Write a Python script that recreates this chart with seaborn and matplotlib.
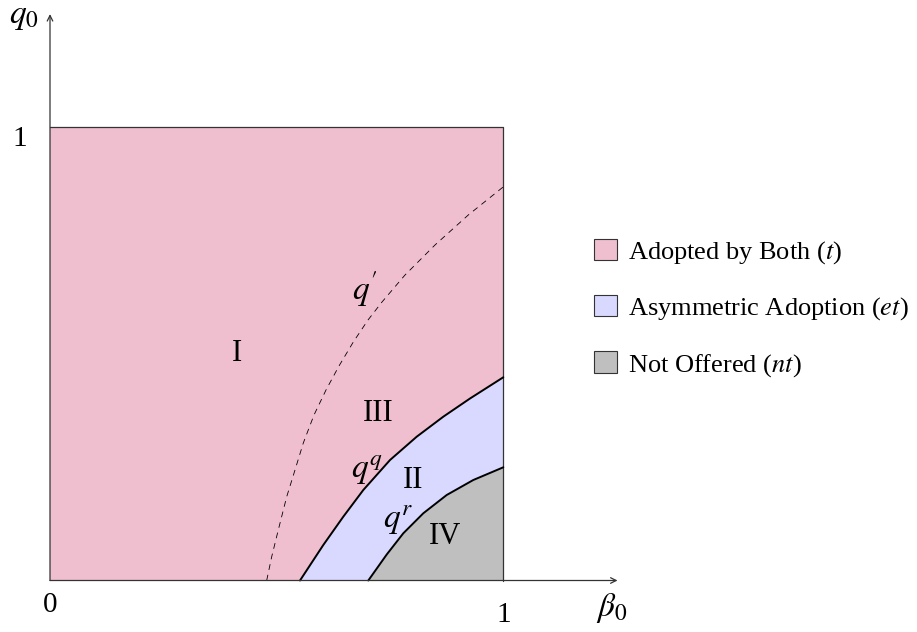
import matplotlib
matplotlib.use("Agg")
import matplotlib.pyplot as plt
import seaborn as sns
import pandas as pd
from matplotlib.patches import Patch

sns.set_style("white")
plt.rcParams['font.family'] = ['Liberation Serif', 'DejaVu Serif']
plt.rcParams['mathtext.fontset'] = 'stix'
plt.rcParams['text.color'] = 'black'

# Boundary curves (beta0, q0)
qprime_x = [0.478, 0.4891, 0.5036, 0.5222, 0.5405, 0.5588, 0.5824, 0.6089, 0.6375, 0.6691,
            0.7015, 0.7324, 0.7832, 0.8493, 0.9228, 1.0]
qprime_y = [0.0, 0.0525, 0.1114, 0.1848, 0.2437, 0.3032, 0.365, 0.4201, 0.473, 0.5259,
            0.5744, 0.6141, 0.6737, 0.7398, 0.806, 0.868]
qq_x = [0.5515, 0.6029, 0.647, 0.6912, 0.7501, 0.809, 0.8676, 0.9265, 1.0]
qq_y = [0.0, 0.0783, 0.1407, 0.1996, 0.2657, 0.3171, 0.3612, 0.4013, 0.4481]
qr_x = [0.7022, 0.7428, 0.7794, 0.8235, 0.8751, 0.9338, 1.0]
qr_y = [0.0, 0.0573, 0.1041, 0.1482, 0.1885, 0.2216, 0.2496]

legend_labels = ["Adopted by Both ($t$)", "Asymmetric Adoption ($et$)", "Not Offered ($nt$)"]
region_labels = ["I", "II", "III", "IV"]
region_pos = [(0.4118, 0.501), (0.80, 0.2216), (0.724, 0.3687), (0.8714, 0.0966)]
curve_labels = [r"$q^{\prime}$", r"$q^{q}$", r"$q^{r}$"]
curve_label_pos = [(0.695, 0.643), (0.700, 0.2437), (0.7677, 0.1334)]

pink = (0.9375, 0.75, 0.8125)
blue = (0.85, 0.85, 1.0)
gray = (0.75, 0.75, 0.75)

fig = plt.figure(figsize=(9.17, 6.32), dpi=100)
ax = fig.add_axes([0, 0, 1, 1])

# Regions
ax.fill_between([0, 1], 0, 1, color=pink, lw=0, zorder=1)
ax.fill_between(qq_x, qq_y, 0, color=blue, lw=0, zorder=2)
ax.fill_between(qr_x, qr_y, 0, color=gray, lw=0, zorder=3)

# Square border (top and right)
ax.plot([0, 1, 1], [1, 1, 0], color="#333333", lw=0.9, zorder=5)

# Curves via seaborn
df_qq = pd.DataFrame({"x": qq_x, "y": qq_y})
df_qr = pd.DataFrame({"x": qr_x, "y": qr_y})
df_qp = pd.DataFrame({"x": qprime_x, "y": qprime_y})
sns.lineplot(data=df_qq, x="x", y="y", color="black", lw=1.4, sort=False, ax=ax, zorder=6)
sns.lineplot(data=df_qr, x="x", y="y", color="black", lw=1.4, sort=False, ax=ax, zorder=6)
sns.lineplot(data=df_qp, x="x", y="y", color="black", lw=0.6, sort=False, ax=ax, zorder=6,
             linestyle=(0, (7, 6)))
ax.set_xlim(-50 / 453.3, (917 - 50) / 453.3)
ax.set_ylim((580.5 - 632) / 453.5, 580.5 / 453.5)
ax.axis("off")

# Axes with arrows
ax.annotate("", xy=(1.252, 0), xytext=(0, 0),
            arrowprops=dict(arrowstyle="->", lw=0.9, color="#333333", shrinkA=0, shrinkB=0), zorder=7)
ax.annotate("", xy=(0, 1.249), xytext=(0, 0),
            arrowprops=dict(arrowstyle="->", lw=0.9, color="#333333", shrinkA=0, shrinkB=0), zorder=7)

fs = 21
ax.text(0.0, -0.054, "0", fontsize=fs, ha="center", va="center")
ax.text(1.0, -0.076, "1", fontsize=fs, ha="center", va="center")
ax.text(-0.066, 0.973, "1", fontsize=fs, ha="center", va="center")
ax.text(1.240, -0.060, r"$\beta_0$", fontsize=fs + 3, ha="center", va="center")
ax.text(-0.057, 1.243, r"$q_0$", fontsize=fs + 3, ha="center", va="center")

for lab, (x, y) in zip(region_labels, region_pos):
    ax.text(x, y, lab, fontsize=22, ha="center", va="center", zorder=8)

for lab, (x, y) in zip(curve_labels, curve_label_pos):
    ax.text(x, y, lab, fontsize=24, ha="center", va="center", zorder=8)

handles = [Patch(facecolor=c, edgecolor="#333333", lw=0.8) for c in (pink, blue, gray)]
leg = ax.legend(handles, legend_labels, loc="center left",
                bbox_to_anchor=(594.3 / 917, 1 - 308.7 / 632),
                frameon=False, fontsize=19, handlelength=0.87, handleheight=0.87,
                labelspacing=1.1, handletextpad=0.42, borderaxespad=0, borderpad=0)

fig.savefig("out.png", dpi=100)
